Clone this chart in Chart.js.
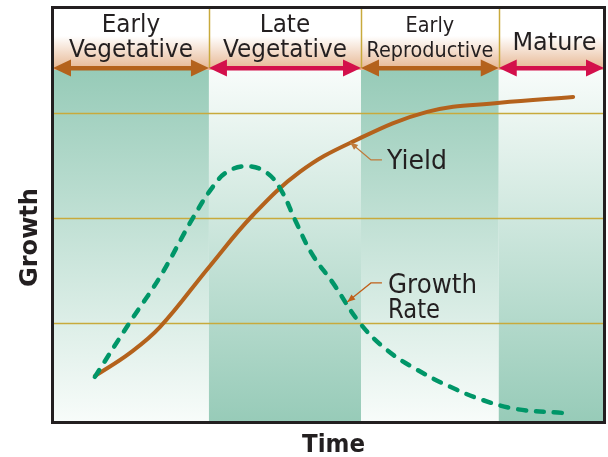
<!DOCTYPE html>
<html>
<head>
<meta charset="utf-8">
<script src="https://cdn.jsdelivr.net/npm/chart.js@4"></script>
<style>
  html, body { margin: 0; background: #fff; }
  #wrap { width: 608px; height: 457px; }
</style>
</head>
<body>
<div id="wrap"><canvas id="chart"></canvas></div>
<script>
// ── Data ─────────────────────────────────────────────────────────────────────
const STAGE_EDGES = [0, 28.3, 55.9, 80.9, 100];
const STAGE_NAMES = [["Early", "Vegetative"], ["Late", "Vegetative"], ["Early", "Reproductive"], ["Mature"]];
const GRID_LEVELS = [23.9, 49.3, 74.6];

const YIELD_T = [7.6, 14.0, 19.4, 28.3, 36.3, 44.8, 53.9, 67.9, 81.1, 94.4];
const YIELD_G = [11.1, 16.7, 22.9, 37.4, 50.0, 60.4, 67.4, 74.9, 77.1, 78.5];

const RATE_T = [7.6, 14.0, 19.4, 25.4, 29.0, 31.6, 35.2, 38.8, 41.4, 44.0, 47.0, 50.8, 55.7, 60.6, 66.1, 72.1, 78.0, 84.2, 92.4];
const RATE_G = [10.9, 24.2, 35.0, 49.3, 56.8, 60.4, 61.8, 60.2, 56.0, 48.6, 40.6, 33.6, 23.9, 17.4, 12.6, 8.5, 5.3, 3.1, 2.2];

// label anchors and leader lines, in data units
const CALLOUTS = [
  { lines: ["Yield"], at: [60.6, 61.1], widths: [60], leader: [[59.7, 63.3], [57.7, 63.3], [53.9, 67.6]], color: "#c07a3a" },
  { lines: ["Growth", "Rate"], at: [60.8, 31.2], widths: [89, 52], leader: [[59.7, 33.6], [57.7, 33.6], [53.4, 29.0]], color: "#c0601a" },
];

// ── Colours ──────────────────────────────────────────────────────────────────
const TEAL  = "#97cbb8";
const PALE  = "#f8fcfa";
const GOLD  = "#c8aa3c";
const INK   = "#231f20";
const BROWN = "#b4621c";
const RED   = "#d3104b";
const GREEN = "#009668";
const HEAD  = 62;   // header band height in px

const toXY = (xs, ys) => xs.map((x, i) => ({ x, y: ys[i] }));

function fitText(ctx, text, x, y, font, width, align = "center") {
  ctx.font = font;
  const w = ctx.measureText(text).width;
  ctx.save();
  ctx.translate(x, y);
  ctx.scale(width / w, 1);
  ctx.textAlign = align;
  ctx.fillText(text, 0, 0);
  ctx.restore();
}

function arrowHead(ctx, tipX, tipY, dir, len, half) {
  ctx.beginPath();
  ctx.moveTo(tipX, tipY);
  ctx.lineTo(tipX - dir * len, tipY - half);
  ctx.lineTo(tipX - dir * len, tipY + half);
  ctx.closePath();
  ctx.fill();
}

// ── Background: shaded stage columns, header band, grid ──────────────────────
const stagePlugin = {
  id: "stages",
  beforeDatasetsDraw(chart) {
    const { ctx, chartArea: ca, scales: { x, y } } = chart;
    ctx.save();
    const top = ca.top + HEAD;
    for (let i = 0; i < 4; i++) {
      const x0 = x.getPixelForValue(STAGE_EDGES[i]);
      const x1 = x.getPixelForValue(STAGE_EDGES[i + 1]);
      const g = ctx.createLinearGradient(0, top, 0, ca.bottom);
      g.addColorStop(0, i % 2 ? PALE : TEAL);
      g.addColorStop(1, i % 2 ? TEAL : PALE);
      ctx.fillStyle = g;
      ctx.fillRect(x0, top, x1 - x0, ca.bottom - top);
    }
    const hg = ctx.createLinearGradient(0, ca.top, 0, top);
    hg.addColorStop(0, "#ffffff");
    hg.addColorStop(0.45, "#ffffff");
    hg.addColorStop(1, "#e6b590");
    ctx.fillStyle = hg;
    ctx.fillRect(ca.left, ca.top, ca.width, HEAD);

    ctx.strokeStyle = GOLD;
    ctx.lineWidth = 1.5;
    GRID_LEVELS.forEach(v => {
      const py = Math.round(y.getPixelForValue(v)) + 0.5;
      ctx.beginPath(); ctx.moveTo(ca.left, py); ctx.lineTo(ca.right, py); ctx.stroke();
    });
    STAGE_EDGES.slice(1, 4).forEach(v => {
      const px = Math.round(x.getPixelForValue(v)) + 0.5;
      ctx.beginPath(); ctx.moveTo(px, ca.top); ctx.lineTo(px, top - 2); ctx.stroke();
    });
    ctx.restore();
  },
  afterDatasetsDraw(chart) {
    const { ctx, chartArea: ca, scales: { x, y } } = chart;
    ctx.save();
    // stage arrows
    const ay = ca.top + HEAD - 2;
    for (let i = 0; i < 4; i++) {
      const x0 = x.getPixelForValue(STAGE_EDGES[i]);
      const x1 = x.getPixelForValue(STAGE_EDGES[i + 1]);
      ctx.fillStyle = i % 2 ? RED : BROWN;
      ctx.fillRect(x0 + 10, ay - 2, x1 - x0 - 20, 4.5);
      arrowHead(ctx, x0, ay, -1, 18, 8.5);
      arrowHead(ctx, x1, ay, 1, 18, 8.5);
    }
    // stage names
    ctx.fillStyle = INK;
    ctx.font = "24px 'DejaVu Sans'";
    const sxVeg = 124 / ctx.measureText("Vegetative").width;
    ctx.font = "22px 'DejaVu Sans'";
    const sxRep = 127 / ctx.measureText("Reproductive").width;
    STAGE_NAMES.forEach((lines, i) => {
      const cx = (x.getPixelForValue(STAGE_EDGES[i]) + x.getPixelForValue(STAGE_EDGES[i + 1])) / 2;
      if (lines.length === 1) {
        fitText(ctx, lines[0], cx + 3, ca.top + 42, "25px 'DejaVu Sans'", 84);
        return;
      }
      const font = i === 2 ? "22px 'DejaVu Sans'" : "24px 'DejaVu Sans'";
      const sx = i === 2 ? sxRep : sxVeg;
      lines.forEach((t, k) => {
        ctx.font = font;
        const w = ctx.measureText(t).width * sx;
        fitText(ctx, t, cx, ca.top + 24 + k * 25, font, w);
      });
    });
    // frame
    ctx.strokeStyle = INK;
    ctx.lineWidth = 3;
    ctx.strokeRect(ca.left - 0.5, ca.top - 0.5, ca.width + 1, ca.height + 1);
    // callouts
    CALLOUTS.forEach(c => {
      const pts = c.leader.map(p => [x.getPixelForValue(p[0]), y.getPixelForValue(p[1])]);
      ctx.strokeStyle = c.color;
      ctx.fillStyle = c.color;
      ctx.lineWidth = 1.3;
      ctx.beginPath();
      ctx.moveTo(pts[0][0], pts[0][1]);
      pts.slice(1).forEach(p => ctx.lineTo(p[0], p[1]));
      ctx.stroke();
      const [kx, ky] = pts[1], [tx, ty] = pts[2];
      ctx.save();
      ctx.translate(tx, ty);
      ctx.rotate(Math.atan2(ty - ky, tx - kx));
      arrowHead(ctx, 0, 0, 1, 8, 3.2);
      ctx.restore();
      ctx.fillStyle = INK;
      const lx = x.getPixelForValue(c.at[0]);
      const ly = y.getPixelForValue(c.at[1]);
      c.lines.forEach((t, k) => fitText(ctx, t, lx, ly + k * 25, "26px 'DejaVu Sans'", c.widths[k], "left"));
    });
    // axis titles
    ctx.fillStyle = INK;
    fitText(ctx, "Time", (ca.left + ca.right) / 2 + 5, ca.bottom + 30, "bold 24px 'DejaVu Sans'", 63);
    ctx.save();
    ctx.translate(37, 237.5);
    ctx.rotate(-Math.PI / 2);
    fitText(ctx, "Growth", 0, 0, "bold 24px 'DejaVu Sans'", 99);
    ctx.restore();
    ctx.restore();
  }
};

// ── Chart ────────────────────────────────────────────────────────────────────
new Chart(document.getElementById("chart"), {
  type: "line",
  data: {
    datasets: [
      {
        label: "Growth Rate",
        data: toXY(RATE_T, RATE_G),
        borderColor: GREEN,
        borderWidth: 4.5,
        borderDash: [8, 10],
        borderCapStyle: "round",
        tension: 0.4,
        pointRadius: 0,
        order: 1,
      },
      {
        label: "Yield",
        data: toXY(YIELD_T, YIELD_G),
        borderColor: BROWN,
        borderWidth: 4,
        borderCapStyle: "round",
        tension: 0.4,
        pointRadius: 0,
        order: 2,
      },
    ]
  },
  options: {
    animation: false,
    responsive: true,
    maintainAspectRatio: false,
    layout: { padding: { left: 53, right: 4, top: 8, bottom: 35 } },
    scales: {
      x: { type: "linear", min: 0, max: 100, display: false },
      y: { min: 0, max: 100, display: false },
    },
    plugins: { legend: { display: false }, tooltip: { enabled: false } }
  },
  plugins: [stagePlugin]
});
</script>
</body>
</html>
